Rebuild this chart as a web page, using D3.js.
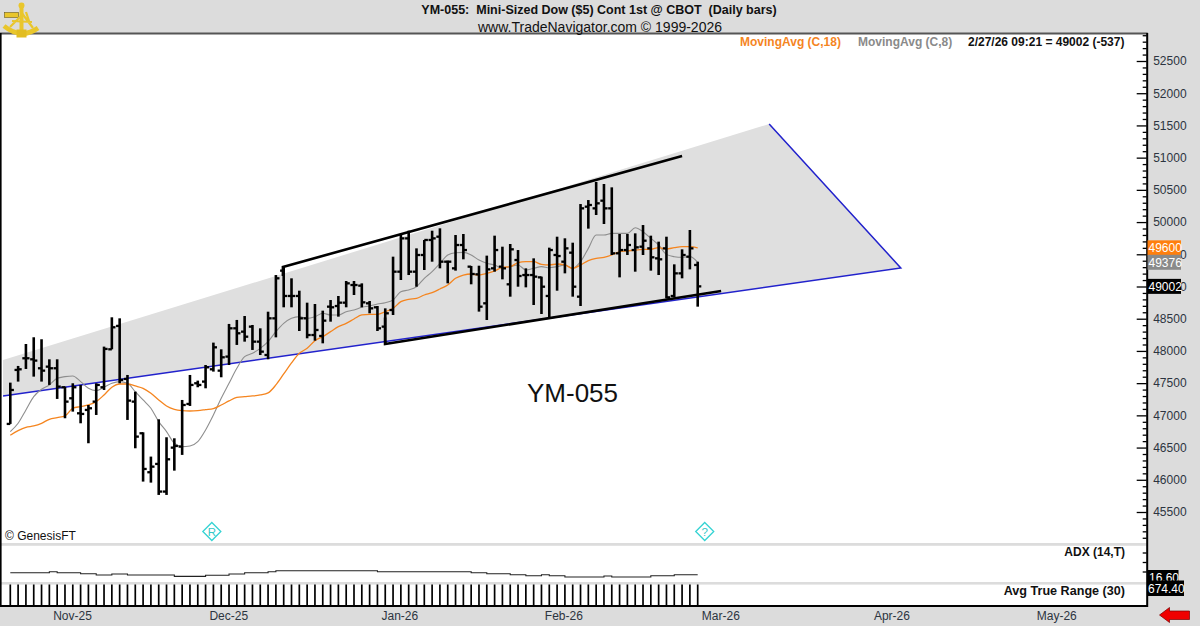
<!DOCTYPE html>
<html><head><meta charset="utf-8">
<script src="https://cdnjs.cloudflare.com/ajax/libs/d3/7.8.5/d3.min.js"></script>
<style>
html,body{margin:0;padding:0;background:#dcdcdc;overflow:hidden}
svg{display:block}
text{font-family:"Liberation Sans",Arial,sans-serif;white-space:pre}
</style></head><body>
<script>
const opens=[46867,47705,47886,47870,47731,47756,47731,47436,47265,47032,
47084,47213,47436,48025,48388,47565,47213,46722,46117,46246,
45817,46499,46515,47177,47498,47524,47715,47694,47912,48351,
48299,48377,48144,47937,48506,49246,48853,48853,48506,48247,
48232,48687,48697,48749,49023,49013,48739,48677,48377,48635,
49230,49747,49230,49489,49722,49773,49385,49282,49644,49308,
49189,48739,49282,49308,49034,49411,49178,49178,49142,48853,
49489,49385,49525,48842,50239,50213,50332,50213,49515,49566,
49566,49618,49592,49437,49592,48853,49204,49463,49334];
const highs=[47508,47767,48108,48212,48181,47870,47870,47446,47498,47472,
47161,47498,48067,48522,48506,47627,47368,46737,46360,46939,
46660,46644,47239,47627,47539,47782,48129,48025,48419,48481,
48542,48403,48351,48609,49178,49308,49127,48935,48749,48728,
48625,48790,48853,49085,49085,49049,48775,48697,48661,49463,
49799,49866,49592,49722,49866,49903,49401,49799,49815,49318,
49323,49479,49789,49618,49660,49566,49282,49437,49153,49603,
49773,49748,49680,50280,50342,50622,50591,50539,49815,49815,
49825,49954,49789,49696,49773,49344,49577,49877,49385];
const lows=[46867,47524,47720,47601,47524,47472,47255,46955,47058,46877,
46567,47006,47394,48025,47498,46929,46489,45972,45956,45765,
45765,46142,46386,47146,47436,47420,47679,47591,47782,48093,
48144,48015,47937,47870,48211,48677,48677,48309,48196,48159,
48118,48454,48532,48677,48868,48677,48584,48309,48092,48558,
49101,49178,48997,49256,49385,49282,49049,49246,49422,49034,
48610,48480,49230,49111,48842,48997,48987,48713,48573,48496,
48935,49204,48842,48697,49898,50110,49970,49489,49142,49489,
49230,49489,49246,49178,48816,48832,49127,49266,48687];
const closes=[47394,47715,47886,47850,47694,47731,47446,47213,47436,47022,
47110,47472,48031,48367,47550,47229,46670,46168,46204,45817,
46318,46525,47161,47472,47472,47746,48056,47901,48351,48274,
48221,48144,47989,48506,49127,48853,48853,48506,48247,48325,
48470,48677,48749,49049,49023,48754,48661,48351,48584,49230,
49747,49230,49489,49722,49747,49385,49385,49644,49566,49194,
48687,49266,49566,49282,49577,49163,49178,49153,48997,49566,
49473,49592,48997,50213,50265,50291,50213,49515,49566,49644,
49608,49711,49453,49422,48832,49204,49489,49592,49002];
const ma18=[46691,46763,46815,46836,46877,46939,46965,46991,47110,47136,
47161,47213,47317,47436,47487,47487,47456,47420,47343,47239,
47146,47094,47074,47068,47074,47089,47105,47161,47224,47280,
47291,47301,47317,47348,47472,47642,47813,47963,48040,48159,
48221,48299,48377,48428,48496,48558,48568,48568,48609,48661,
48765,48801,48816,48868,48904,48961,49023,49127,49178,49194,
49178,49204,49241,49297,49308,49370,49385,49385,49344,49334,
49349,49334,49282,49334,49401,49437,49453,49489,49541,49551,
49566,49577,49577,49603,49582,49603,49618,49618,49600];
const ma8=[46748,46877,47084,47291,47405,47472,47575,47601,47612,47524,
47420,47384,47436,47498,47524,47498,47368,47239,47110,46903,
46748,46567,46515,46525,46592,46774,47006,47265,47498,47731,
47911,47963,48040,48144,48299,48428,48506,48532,48506,48532,
48584,48558,48558,48609,48635,48677,48697,48728,48749,48790,
48920,48946,48997,49127,49230,49359,49489,49525,49530,49489,
49411,49360,49334,49282,49308,49334,49256,49282,49308,49292,
49308,49334,49282,49385,49592,49799,49799,49825,49825,49825,
49913,49851,49748,49644,49499,49463,49453,49463,49376];
const adx=[18.7,18.7,18.7,18.7,18.7,19.8,18.7,18.7,18.7,17.7,
17.7,16.3,16.3,17.4,17.4,16.3,16.3,16.3,16.3,16.3,
16.3,14.9,14.9,14.9,14.9,16.0,16.0,16.0,17.4,17.4,
18.7,18.7,18.7,19.8,20.8,20.8,20.8,20.8,20.8,20.8,
20.8,20.8,20.8,20.8,20.8,20.8,20.8,19.8,19.8,19.8,
19.8,19.8,19.8,19.8,19.8,19.8,19.8,19.8,19.8,18.7,
18.7,17.7,17.7,17.7,16.6,16.6,15.6,15.6,16.6,15.6,
15.6,14.2,14.2,14.2,14.2,14.2,15.3,14.2,14.2,14.2,
14.2,14.2,15.6,15.6,15.6,16.6,16.6,16.6,16.6];
const atr=[612,610,608,611,606,604,601,603,600,598,
596,597,601,606,612,615,618,622,620,626,
628,630,627,632,628,630,633,631,635,637,
634,632,629,636,641,645,643,640,638,636,
633,631,628,630,627,625,622,620,624,630,
634,638,635,637,633,636,632,634,630,633,
639,645,647,644,648,650,646,648,645,651,
649,647,652,660,658,662,659,665,668,664,
661,658,660,657,664,662,660,663,674.4];
const monthTicks=[7.9,27.9,49.8,70.8,90.9,112.8,133.9];
const monthLabels=["Nov-25","Dec-25","Jan-26","Feb-26","Mar-26","Apr-26","May-26"];
const channelX=[-0.93,97.15,114,-0.93];
const channelP=[47860,51522,49288,47301];
const upperX=[34.9,34.9,86.0];
const upperP=[49163,49303,51026];
const lowerX=[47.98,47.98,91.0];
const lowerP=[48520,48108,48931];
const markerX=[25.8,88.9];
const markerText=["R","?"];
const endLabels=["49600","49376","49002"];
const endValues=[49600,49376,49002];
const endColors=["#ff7f0e","#8a8a8a","#000000"];

const W=1200,H=626,AX=1146.7;
const svg=d3.select("body").append("svg").attr("width",W).attr("height",H);
const x=d3.scaleLinear().domain([0,88]).range([10.3,697.7]);
const y=d3.scaleLinear().domain([45500,52500]).range([512,61]);
const yAdx=d3.scaleLinear().domain([20,40]).range([571.5,552.5]);
const yAtr=d3.scaleLinear().domain([0,590]).range([605,584.5]).clamp(true);

// panels
svg.append("rect").attr("width",W).attr("height",H).attr("fill","#dcdcdc");
svg.append("rect").attr("x",0).attr("y",33).attr("width",AX).attr("height",574).attr("fill","#fff");
svg.append("rect").attr("x",0).attr("y",32.5).attr("width",AX+1).attr("height",2).attr("fill","#555");
[[543,2.8],[582,2.6]].forEach(d=>svg.append("rect").attr("x",0).attr("y",d[0]).attr("width",AX+1).attr("height",d[1]).attr("fill","#dcdcdc"));

// channel
const pts=channelX.map((v,i)=>[x(v),y(channelP[i])]);
svg.append("path").attr("d",d3.line()(pts.slice(0,3).concat([pts[3]]))+"Z").attr("fill","#dfdfdf");
svg.append("path").attr("d",d3.line()(pts.slice(1))).attr("fill","none").attr("stroke","#2222cc").attr("stroke-width",1.5);

// moving averages
const maLine=d3.line().x((d,i)=>x(i)).y(d=>y(d)).curve(d3.curveMonotoneX);
svg.append("path").attr("d",maLine(ma8)).attr("fill","none").attr("stroke","#8e8e8e").attr("stroke-width",1.1);
svg.append("path").attr("d",maLine(ma18)).attr("fill","none").attr("stroke","#f5851f").attr("stroke-width",1.3);

// price bars
const bars=svg.append("g").attr("stroke","#000").attr("fill","none");
closes.forEach((c,i)=>{
  const g=bars.append("g");
  g.append("line").attr("x1",x(i)).attr("x2",x(i)).attr("y1",y(highs[i])).attr("y2",y(lows[i])).attr("stroke-width",2.6);
  g.append("line").attr("x1",x(i)-3.6).attr("x2",x(i)).attr("y1",y(opens[i])).attr("y2",y(opens[i])).attr("stroke-width",2.3);
  g.append("line").attr("x1",x(i)).attr("x2",x(i)+3.6).attr("y1",y(c)).attr("y2",y(c)).attr("stroke-width",2.3);
});

// drawn trend lines
[[upperX,upperP],[lowerX,lowerP]].forEach(([a,b])=>{
  svg.append("path").attr("d",d3.line()(a.map((v,i)=>[x(v),y(b[i])]))).attr("fill","none").attr("stroke","#000").attr("stroke-width",2.6);
});

// ADX & ATR
svg.append("path").attr("d",d3.line().x((d,i)=>x(i)).y(d=>yAdx(d)).curve(d3.curveStepAfter)(adx)).attr("fill","none").attr("stroke","#222").attr("stroke-width",1.1);
svg.append("g").selectAll("line").data(atr).join("line").attr("x1",(d,i)=>x(i)).attr("x2",(d,i)=>x(i))
  .attr("y1",605).attr("y2",d=>yAtr(d)).attr("stroke","#000").attr("stroke-width",1.7);

// frame
svg.append("rect").attr("x",0).attr("y",33).attr("width",1.6).attr("height",574).attr("fill","#000");
svg.append("rect").attr("x",0).attr("y",605).attr("width",AX+1).attr("height",2).attr("fill","#000");
svg.append("rect").attr("x",AX-0.5).attr("y",33).attr("width",2).attr("height",574).attr("fill","#000");

// axes
const priceAxis=d3.axisRight(y).tickValues(d3.range(45100,53000,100)).tickSize(-4).tickPadding(6.5)
  .tickFormat(d=>d%500===0&&d<=52500?d:"");
const pa=svg.append("g").attr("transform",`translate(${AX},0)`).call(priceAxis);
pa.select(".domain").remove();
pa.selectAll("line").attr("stroke","#000").attr("stroke-width",1.3).attr("x2",d=>d%500===0?-10:-4);
pa.selectAll("text").attr("font-size",12).attr("fill","#2c3440").attr("font-family","Liberation Sans");
const adxAxis=d3.axisRight(yAdx).tickValues([20,30,40]).tickSize(-4).tickFormat("");
const aa=svg.append("g").attr("transform",`translate(${AX},0)`).call(adxAxis);
aa.select(".domain").remove();
aa.selectAll("line").attr("stroke","#000").attr("stroke-width",1.3);
const timeAxis=d3.axisBottom(x).tickValues(monthTicks).tickSize(0).tickPadding(4).tickFormat((d,i)=>monthLabels[i]);
const ta=svg.append("g").attr("transform","translate(0,607)").call(timeAxis);
ta.select(".domain").remove();
ta.selectAll("text").attr("font-size",12).attr("fill","#2c3440").attr("font-family","Liberation Sans");

// end value boxes
endLabels.forEach((t,i)=>{
  const cy=y(endValues[i]);
  svg.append("rect").attr("x",1147.5).attr("y",cy-7.5).attr("width",33.5).attr("height",15).attr("fill",endColors[i]);
  svg.append("text").attr("x",1148.5).attr("y",cy+4.3).attr("font-size",12).attr("fill","#fff").text(t);
});
svg.append("rect").attr("x",1147.5).attr("y",570).attr("width",31).attr("height",12).attr("fill","#000");
svg.append("text").attr("x",1149).attr("y",581.5).attr("font-size",12).attr("fill","#fff").text("16.60");
svg.append("rect").attr("x",1147.5).attr("y",580.5).attr("width",36.5).attr("height",15.5).attr("fill","#000");
svg.append("text").attr("x",1148).attr("y",593).attr("font-size",12).attr("fill","#fff").text("674.40");

// texts
function t(xp,yp,s,o={}){return svg.append("text").attr("x",xp).attr("y",yp).attr("font-size",o.size||12)
  .attr("font-weight",o.bold?"bold":"normal").attr("fill",o.fill||"#111").attr("text-anchor",o.anchor||"start").text(s);}
t(599,14,"YM-055:  Mini-Sized Dow ($5) Cont 1st @ CBOT  (Daily bars)",{bold:true,anchor:"middle",size:12.5});
t(600,32,"www.TradeNavigator.com © 1999-2026",{size:14,anchor:"middle"});
t(740,45.5,"MovingAvg (C,18)",{bold:true,fill:"#f5851f"});
t(858,45.5,"MovingAvg (C,8)",{bold:true,fill:"#8a8a8a"});
t(968,45.5,"2/27/26 09:21 = 49002 (-537)",{bold:true});
t(572.5,402,"YM-055",{size:26,anchor:"middle"});
t(5,540,"© GenesisFT",{size:12});
t(1125,556,"ADX (14,T)",{bold:true,anchor:"end"});
t(1125,595,"Avg True Range (30)",{bold:true,anchor:"end",size:12.6});

// markers
markerX.forEach((v,i)=>{
  const cx=x(v),cy=531.5,r=9;
  svg.append("path").attr("d",`M${cx},${cy-r}L${cx+r},${cy}L${cx},${cy+r}L${cx-r},${cy}Z`).attr("fill","#fff").attr("stroke","#35d3d3").attr("stroke-width",1.3);
  t(cx,cy+4.2,markerText[i],{size:11.5,anchor:"middle",fill:"#35c8c8"});
});

// red arrow
svg.append("path").attr("d","M1159.5,615L1169.5,607.5L1169.5,611L1189.5,611L1189.5,619.5L1169.5,619.5L1169.5,622.5Z").attr("fill","#f00000").attr("stroke","#700").attr("stroke-width",0.7);

// sextant logo
const logo=svg.append("g");
const gold="#e9c62c";
logo.append("path").attr("d","M4,26 Q21,40 38,28").attr("fill","none").attr("stroke",gold).attr("stroke-width",4.6);
logo.append("rect").attr("x",4.5).attr("y",12.5).attr("width",14).attr("height",5).attr("fill",gold).attr("stroke","#6b5a18").attr("stroke-width",0.6);
logo.append("path").attr("d","M21.5,3.5L21.5,33").attr("stroke",gold).attr("stroke-width",4);
logo.append("circle").attr("cx",21.5).attr("cy",5.5).attr("r",3).attr("fill",gold);
logo.append("path").attr("d","M21,12L33,28M21,16L10,27M12,21L32,22M26,12L30,24").attr("stroke",gold).attr("stroke-width",2.2).attr("fill","none");
logo.append("rect").attr("x",16.5).attr("y",29.5).attr("width",10).attr("height",8).attr("fill","#e2bd22");
</script>
</body></html>
